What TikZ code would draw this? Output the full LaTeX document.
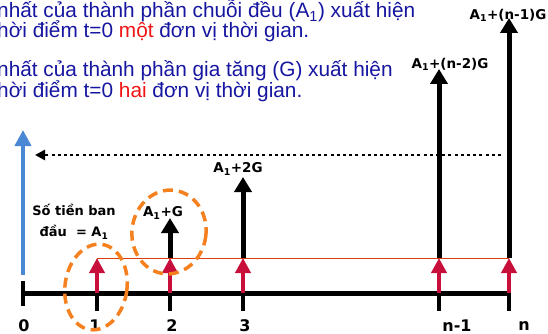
\documentclass[tikz,border=0pt]{standalone}
\usepackage{fontspec}
\setmainfont{Liberation Sans}
\newfontfamily\lblfont{DejaVu Sans}
\usetikzlibrary{arrows.meta}
\definecolor{txtblue}{RGB}{22,22,160}
\definecolor{txtred}{RGB}{240,20,20}
\definecolor{arrred}{RGB}{200,15,60}
\definecolor{arrblue}{RGB}{74,136,214}
\definecolor{ellorange}{RGB}{245,128,32}
\definecolor{linered}{RGB}{220,60,10}
\tikzset{
  toptext/.style={anchor=base west, inner sep=0pt, font=\fontsize{20.8}{24}\selectfont, text=txtblue},
  ticklbl/.style={inner sep=0pt, font=\lblfont\bfseries\fontsize{16}{18}\selectfont},
  vallbl/.style={inner sep=0pt, font=\lblfont\bfseries\fontsize{13.5}{16}\selectfont},
  axisline/.style={line width=5pt, black},
  tickline/.style={line width=4pt, black},
  redarrow/.style={line width=4pt, arrred, -{Triangle[width=15pt,length=15pt]}},
  blackarrow/.style={line width=5pt, black, -{Triangle[width=17pt,length=15pt]}},
  bluearrow/.style={line width=4.5pt, arrblue, -{Triangle[width=16pt,length=16pt]}},
  dotline/.style={line width=2.5pt, black, dash pattern=on 3pt off 3.2pt, -{Triangle[width=10pt,length=10pt]}},
  levelline/.style={line width=1pt, linered},
  dashell/.style={line width=3.5pt, ellorange, dash pattern=on 10pt off 6pt},
}
\begin{document}
\begin{tikzpicture}[x=1pt,y=-1pt]
\useasboundingbox (0,0) rectangle (548,334);
\clip (0,0) rectangle (548,334);

% top texts
\node[toptext] (l1) at (-3,18) {nhất của thành phần chuỗi đều (A\textsubscript{1}) xuất hiện};
\node[toptext] (l2) at (-3,38) {hời điểm t=0 \textcolor{txtred}{một} đơn vị thời gian.};
\node[toptext] (l3) at (-3,77) {nhất của thành phần gia tăng (G) xuất hiện};
\node[toptext] (l4) at (-3,98) {hời điểm t=0 \textcolor{txtred}{hai} đơn vị thời gian.};

% axis coordinates
\coordinate (b0) at (23,293);
\coordinate (b1) at (97,293);
\coordinate (b2) at (170,293);
\coordinate (b3) at (243,293);
\coordinate (b4) at (439,293);
\coordinate (b5) at (509,293);
\coordinate (bend) at (511,293);

\coordinate (t0a) at (23,281);
\coordinate (t0b) at (23,306);
\coordinate (t1) at (97,311);
\coordinate (t2) at (170,311);
\coordinate (t3) at (243,311);
\coordinate (t4) at (439,311);
\coordinate (t5) at (509,311);

% level (A1) line
\coordinate (r1) at (97,258);
\coordinate (r2) at (170,258);
\coordinate (r3) at (243,258);
\coordinate (r4) at (439,258);
\coordinate (r5) at (509,258);

% black arrow tips
\coordinate (k2) at (170,218);
\coordinate (k3) at (243,177);
\coordinate (k4) at (439,69);
\coordinate (k5) at (509,18);

% blue arrow
\coordinate (u0) at (23,275);
\coordinate (u1) at (23,130);

% dotted line
\coordinate (d0) at (501,155);
\coordinate (d1) at (35,155);

\draw[bluearrow] (u0) -- (u1);
\draw[dotline] (d0) -- (d1);

\draw[axisline] (b0) -- (bend);
\draw[tickline] (t0a) -- (t0b);
\foreach \i in {1,...,5} { \draw[tickline] (b\i) -- (t\i); }

\foreach \i in {1,...,5} { \draw[redarrow] (b\i) -- (r\i); }
\draw[levelline] (r1) -- (r5);
\foreach \i in {2,...,5} { \draw[blackarrow] (r\i) -- (k\i); }

% tick labels
\node[ticklbl] (n0) at (24,326) {0};
\node[ticklbl] (n1) at (95,326) {1};
\node[ticklbl] (n2) at (172,326) {2};
\node[ticklbl] (n3) at (245,326) {3};
\node[ticklbl] (n4) at (457,326) {n-1};
\node[ticklbl] (n5) at (524,326) {n};

% value labels
\node[vallbl] (v2) at (163,213) {A\textsubscript{1}+G};
\node[vallbl] (v3) at (238,169) {A\textsubscript{1}+2G};
\node[vallbl] (v4) at (450,64) {A\textsubscript{1}+(n-2)G};
\node[vallbl] (v5) at (508,15) {A\textsubscript{1}+(n-1)G};

\node[vallbl, align=center, font=\lblfont\bfseries\fontsize{13}{21}\selectfont] (init) at (74,222) {Số tiền ban\\ đầu\ \ = A\textsubscript{1}};

% dashed ellipses
\draw[dashell] (96,287) ellipse [x radius=31pt, y radius=43pt, rotate=-8];
\draw[dashell] (169,232) ellipse [x radius=37pt, y radius=42pt, rotate=-8];
\end{tikzpicture}
\end{document}
